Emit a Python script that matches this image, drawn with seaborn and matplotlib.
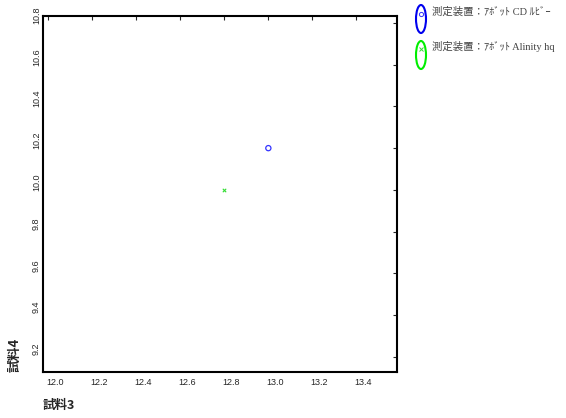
import matplotlib
matplotlib.use("Agg")
import matplotlib.pyplot as plt
from matplotlib.lines import Line2D
from matplotlib.patches import Ellipse
from matplotlib.transforms import ScaledTranslation
import seaborn as sns
import pandas as pd

# ── Data ─────────────────────────────────────────────────────────────────────
devices = ["測定装置：ｱﾎﾞｯﾄ CD ﾙﾋﾞｰ", "測定装置：ｱﾎﾞｯﾄ Alinity hq"]
sample3 = [13.0, 12.8]
sample4 = [10.2, 10.0]
markers = ["o", "x"]
colors = ["#3333ff", "#33dd33"]
edge_colors = ["#0000ee", "#00ee00"]
x_ticks = [12.0, 12.2, 12.4, 12.6, 12.8, 13.0, 13.2, 13.4]
y_ticks = [9.2, 9.4, 9.6, 9.8, 10.0, 10.2, 10.4, 10.6, 10.8]

df = pd.DataFrame({"device": devices, "x": sample3, "y": sample4})

sns.set_style("white")
plt.rcParams["font.family"] = ["Noto Sans CJK JP", "DejaVu Sans"]

W, H = 566, 418
fig = plt.figure(figsize=(W / 100, H / 100), dpi=100)
ax = fig.add_axes([43 / W, 1 - 372 / H, 354 / W, 356 / H])

for dev, m, c in zip(devices, markers, colors):
    sub = df[df["device"] == dev]
    if m == "o":
        sns.scatterplot(data=sub, x="x", y="y", ax=ax, marker="o", s=14,
                        facecolor="none", edgecolor=c, linewidth=0.9, legend=False)
    else:
        sns.scatterplot(data=sub, x="x", y="y", ax=ax, marker="x", s=6,
                        color=c, linewidth=0.8, legend=False)

ax.set_xlim(11.977, 13.584)
ax.set_ylim(9.1266, 10.8336)
ax.set_xticks(x_ticks)
ax.set_yticks(y_ticks)
ax.set_xticklabels([f"{v:.1f}" for v in x_ticks], fontsize=6.5, family="Liberation Sans")
ax.set_yticklabels([f"{v:.1f}" for v in y_ticks], fontsize=6.5, rotation=90,
                   va="center", family="Liberation Sans")
ax.tick_params(direction="in", length=3, width=0.8, top=True, right=True,
               labeltop=False, labelright=False)
ax.tick_params(axis="y", pad=1.5)
ax.tick_params(axis="x", pad=4)

# tick labels sit a little off their ticks in the original
for lab in ax.get_xticklabels():
    lab.set_transform(lab.get_transform() + ScaledTranslation(7 / 100, 0, fig.dpi_scale_trans))
for lab in ax.get_yticklabels():
    lab.set_transform(lab.get_transform() + ScaledTranslation(0, 8 / 100, fig.dpi_scale_trans))

for sp in ax.spines.values():
    sp.set_linewidth(1.5)
    sp.set_color("black")

ax.set_xlabel("試料3", fontsize=9, fontweight="bold", ha="left")
ax.xaxis.set_label_coords(0.0, -0.075)
ax.set_ylabel("試料4", fontsize=9.5, fontweight="bold", ha="left")
ax.yaxis.set_label_coords(-0.06, 0.0)

# ── Legend outside the axes, ellipse handles ────────────────────────────────
def fx(px):
    return px / W


def fy(py):
    return 1 - py / H


ell_centers = [(421, 19), (421, 55)]
mark_centers = [(421, 14), (421, 49)]
text_y = [12, 47]
for dev, m, c, ec, (ex, ey), (mx, my), ty in zip(devices, markers, colors, edge_colors,
                                                  ell_centers, mark_centers, text_y):
    fig.patches.append(Ellipse((fx(ex), fy(ey)), 10 / W, 28 / H, transform=fig.transFigure,
                               fill=False, edgecolor=ec, linewidth=1.5))
    fig.lines.append(Line2D([fx(mx)], [fy(my)], transform=fig.transFigure, linestyle="none",
                            marker=m, markersize=3, markerfacecolor="none",
                            markeredgecolor=c, markeredgewidth=0.7))
    fig.text(fx(432), fy(ty), dev, fontsize=7.5, color="#444444", va="center", ha="left",
             family=["Liberation Serif", "Noto Sans CJK JP"])

fig.savefig("out.png", dpi=100)
